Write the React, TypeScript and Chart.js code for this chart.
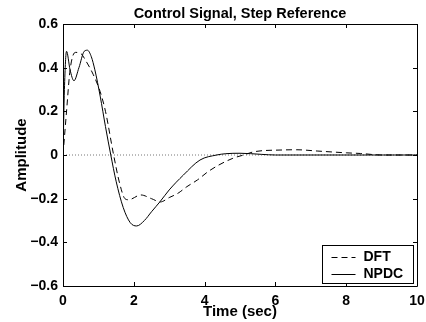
import React, { useEffect, useRef } from "react";
import { Chart, registerables } from "chart.js";

Chart.register(...registerables);

const TITLE = "Control Signal, Step Reference";
const X_LABEL = "Time (sec)";
const Y_LABEL = "Amplitude";
const LEGEND_LABELS = ["DFT", "NPDC"];

const X_MIN = 0;
const X_MAX = 10;
const X_STEP = 2;
const Y_MIN = -0.6;
const Y_MAX = 0.6;
const Y_STEP = 0.2;

// DFT (dashed)
const tDFT = [0, 0.1, 0.2, 0.35, 0.5, 0.65, 0.85, 1.05, 1.2, 1.43, 1.6, 1.75, 1.85, 2.2, 2.5, 2.75, 3.0, 3.25, 3.5, 3.8, 4.1, 4.4, 4.8, 5.1, 5.4, 6.2, 6.6, 7.2, 8.0, 8.4, 9.0, 10];
const vDFT = [0.0, 0.2, 0.39, 0.47, 0.465, 0.43, 0.37, 0.29, 0.2, 0.0, -0.13, -0.2, -0.205, -0.183, -0.2, -0.215, -0.195, -0.175, -0.145, -0.114, -0.076, -0.046, -0.015, 0.0, 0.015, 0.023, 0.024, 0.018, 0.01, 0.007, 0.0, 0.0];

// NPDC (solid)
const tNPDC = [0, 0.04, 0.1, 0.2, 0.31, 0.45, 0.6, 0.69, 0.8, 0.9, 1.05, 1.2, 1.35, 1.5, 1.7, 1.9, 2.08, 2.3, 2.5, 2.74, 3.0, 3.4, 3.87, 4.34, 4.6, 5.0, 5.6, 6.0, 10];
const vNPDC = [0.0, 0.3, 0.475, 0.39, 0.34, 0.4, 0.475, 0.48, 0.45, 0.39, 0.27, 0.13, 0.0, -0.12, -0.24, -0.31, -0.325, -0.3, -0.26, -0.214, -0.16, -0.092, -0.023, 0.0, 0.006, 0.008, 0.003, 0.0, 0.0];

// Zero reference (dotted)
const tZero = [0, 10];
const vZero = [0, 0];

const FONT_FAMILY = "'Liberation Sans', Arial, Helvetica, sans-serif";

const toPoints = (t: number[], v: number[]) => t.map((x, i) => ({ x, y: v[i] }));

const fmtY = (v: number) => {
  if (Math.abs(v) < 1e-9) return "0";
  const s = Math.abs(v).toFixed(1);
  return v < 0 ? "\u2212" + s : s;
};

const boxPlugin = {
  id: "matlabBox",
  afterDatasetsDraw(chart: any) {
    const { ctx, chartArea, scales } = chart;
    const { left, right, top, bottom } = chartArea;
    const xs = scales.x;
    const ys = scales.y;
    ctx.save();
    ctx.strokeStyle = "#000";
    ctx.lineWidth = 1;
    ctx.beginPath();
    ctx.rect(Math.round(left) + 0.5, Math.round(top) + 0.5, Math.round(right - left), Math.round(bottom - top));
    ctx.stroke();
    const tl = 4;
    ctx.beginPath();
    xs.ticks.forEach((tk: any) => {
      const px = Math.round(xs.getPixelForValue(tk.value)) + 0.5;
      ctx.moveTo(px, bottom);
      ctx.lineTo(px, bottom - tl);
      ctx.moveTo(px, top);
      ctx.lineTo(px, top + tl);
    });
    ys.ticks.forEach((tk: any) => {
      const py = Math.round(ys.getPixelForValue(tk.value)) + 0.5;
      ctx.moveTo(left, py);
      ctx.lineTo(left + tl, py);
      ctx.moveTo(right, py);
      ctx.lineTo(right - tl, py);
    });
    ctx.stroke();
    ctx.restore();
  },
  afterDraw(chart: any) {
    const { ctx, chartArea } = chart;
    // title
    ctx.save();
    ctx.fillStyle = "#000";
    ctx.font = `bold 14.5px ${FONT_FAMILY}`;
    ctx.textAlign = "center";
    ctx.textBaseline = "middle";
    ctx.fillText(TITLE, (chartArea.left + chartArea.right) / 2, 13.5);
    ctx.restore();

    // legend
    const w = 91;
    const h = 38;
    const bx = Math.round(chartArea.right - 4 - w) + 0.5;
    const by = Math.round(chartArea.bottom - 3 - h) + 0.5;
    ctx.save();
    ctx.fillStyle = "#fff";
    ctx.fillRect(bx, by, w, h);
    ctx.strokeStyle = "#000";
    ctx.lineWidth = 1;
    ctx.strokeRect(bx, by, w, h);
    ctx.font = `bold 14px ${FONT_FAMILY}`;
    ctx.textBaseline = "middle";
    ctx.textAlign = "left";
    const dsIdx = [0, 1];
    dsIdx.forEach((di, i) => {
      const ds = chart.data.datasets[di];
      const yy = by + 11 + i * 17;
      ctx.beginPath();
      ctx.setLineDash(ds.borderDash || []);
      ctx.strokeStyle = ds.borderColor;
      ctx.lineWidth = ds.borderWidth;
      ctx.moveTo(bx + 9, Math.round(yy) + 0.5);
      ctx.lineTo(bx + 33, Math.round(yy) + 0.5);
      ctx.stroke();
      ctx.setLineDash([]);
      ctx.fillStyle = "#000";
      ctx.fillText(LEGEND_LABELS[i], bx + 41, yy + 1);
    });
    ctx.restore();
  },
};

export default function App() {
  const ref = useRef<HTMLCanvasElement | null>(null);
  useEffect(() => {
    if (!ref.current) return;
    const tickFont = { family: FONT_FAMILY, size: 14, weight: "bold" as const };
    const labelFont = { family: FONT_FAMILY, size: 15, weight: "bold" as const };
    const chart = new Chart(ref.current, {
      type: "line",
      data: {
        datasets: [
          {
            label: LEGEND_LABELS[0],
            data: toPoints(tDFT, vDFT),
            borderColor: "#000",
            borderWidth: 1,
            borderDash: [6, 4],
            pointRadius: 0,
            cubicInterpolationMode: "monotone",
            fill: false,
          },
          {
            label: LEGEND_LABELS[1],
            data: toPoints(tNPDC, vNPDC),
            borderColor: "#000",
            borderWidth: 1,
            pointRadius: 0,
            cubicInterpolationMode: "monotone",
            fill: false,
          },
          {
            label: "zero",
            data: toPoints(tZero, vZero),
            borderColor: "#777",
            borderWidth: 1,
            borderDash: [1, 2],
            pointRadius: 0,
            fill: false,
          },
        ],
      },
      options: {
        responsive: false,
        animation: false,
        events: [],
        layout: { padding: { left: 0, right: 0, top: 24, bottom: 0 } },
        plugins: {
          legend: { display: false },
          tooltip: { enabled: false },
          title: { display: false },
        },
        scales: {
          x: {
            type: "linear",
            min: X_MIN,
            max: X_MAX,
            ticks: {
              stepSize: X_STEP,
              color: "#000",
              font: tickFont,
              padding: 7,
              autoSkip: false,
              maxRotation: 0,
            },
            grid: { display: false, drawTicks: false },
            border: { display: false },
            title: {
              display: true,
              text: X_LABEL,
              color: "#000",
              font: labelFont,
              padding: { top: 0, bottom: 1 },
            },
            afterFit: (s: any) => {
              s.height = 36;
              s.paddingLeft = 0;
              s.paddingRight = 9;
            },
          },
          y: {
            type: "linear",
            min: Y_MIN,
            max: Y_MAX,
            ticks: {
              stepSize: Y_STEP,
              color: "#000",
              font: tickFont,
              padding: 5,
              autoSkip: false,
              callback: (v: any) => fmtY(Number(v)),
            },
            grid: { display: false, drawTicks: false },
            border: { display: false },
            title: {
              display: true,
              text: Y_LABEL,
              color: "#000",
              font: labelFont,
              padding: { top: 13, bottom: 0 },
            },
            afterFit: (s: any) => {
              s.width = 63;
            },
          },
        },
      },
      plugins: [boxPlugin],
    });
    return () => chart.destroy();
  }, []);
  return (
    <div style={{ position: "fixed", left: 0, top: 0, width: 426, height: 322, background: "#fff" }}>
      <canvas ref={ref} width={426} height={322} style={{ display: "block" }} />
    </div>
  );
}
